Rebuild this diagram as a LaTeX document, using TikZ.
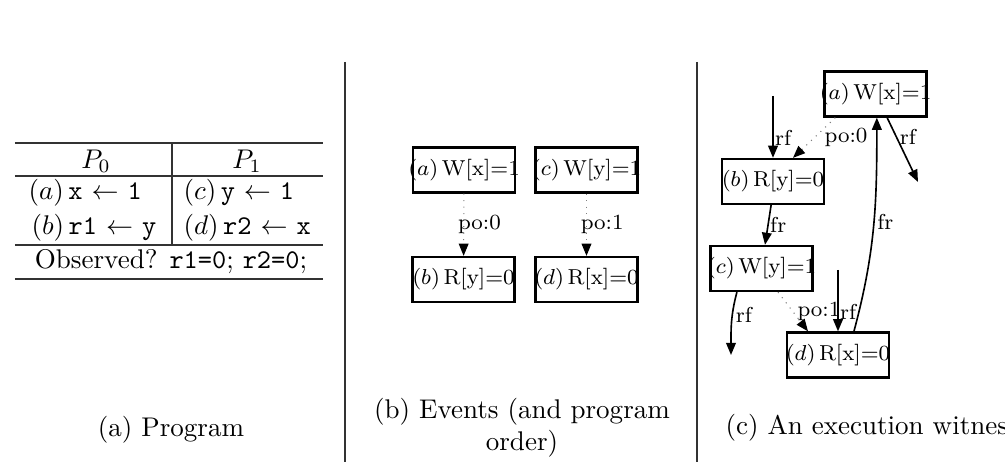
\documentclass[tikz,border=0pt]{standalone}
\usetikzlibrary{arrows.meta}
% event label, allowed to run over the box edges like in the witness drawings
\newcommand{\evlab}[2]{\makebox[37.7pt]{$(#1)$\,#2}}
\begin{document}
\begin{tikzpicture}[x=0.37pt,y=-0.37pt,
  evt/.style={draw,thick,font=\footnotesize,inner xsep=0pt,minimum width=37.7pt,minimum height=16.7pt},
  po/.style={dotted,gray,-{Triangle[length=4.5pt,width=3.6pt,black]}},
  rel/.style={semithick,-{Triangle[length=4.5pt,width=3.6pt]}},
  lbl/.style={font=\footnotesize,inner sep=1pt,text=black},
  rule/.style={thin,black!80}]
  \useasboundingbox (0,0) rectangle (1005,474);
  % (a) the program as a table
  \draw[rule] (15,143)--(323,143) (15,176)--(323,176) (15,245)--(323,245) (15,279)--(323,279);
  \draw[rule] (172,143)--(172,245);
  \node (hp0) at (96,161) {$P_0$};
  \node (hp1) at (247,161) {$P_1$};
  \node[anchor=west] (ia) at (19,193) {$(a)$\,\texttt{x} $\leftarrow$ \texttt{1}};
  \node[anchor=west] (ib) at (22,228) {$(b)$\,\texttt{r1} $\leftarrow$ \texttt{y}};
  \node[anchor=west] (ic) at (174,193) {$(c)$\,\texttt{y} $\leftarrow$ \texttt{1}};
  \node[anchor=west] (id) at (174,228) {$(d)$\,\texttt{r2} $\leftarrow$ \texttt{x}};
  \node (obs) at (171,262) {Observed? \texttt{r1=0}; \texttt{r2=0};};
  \node (capa) at (171,430) {(a) Program};
  \draw[rule] (345,62)--(345,462);
  % (b) events and program order
  \node[evt] (ea) at (464,170) {\evlab{a}{W[x]=1}};
  \node[evt] (ec) at (586.5,170) {\evlab{c}{W[y]=1}};
  \node[evt] (eb) at (463.5,279.5) {\evlab{b}{R[y]=0}};
  \node[evt] (ed) at (586.5,279.5) {\evlab{d}{R[x]=0}};
  \draw[po] (ea) -- node[lbl,midway,xshift=5.8pt] {po:0} (eb);
  \draw[po] (ec) -- node[lbl,midway,xshift=5.8pt] {po:1} (ed);
  \node[align=center] (capb) at (522,428) {(b) Events (and program\\order)};
  \draw[rule] (697,62)--(697,462);
  % (c) an execution witness
  \node[evt] (wa) at (875.5,94) {\evlab{a}{W[x]=1}};
  \node[evt] (wb) at (773,181.5) {\evlab{b}{R[y]=0}};
  \node[evt] (wc) at (761.5,268.5) {\evlab{c}{W[y]=1}};
  \node[evt] (wd) at (838,355) {\evlab{d}{R[x]=0}};
  \coordinate (rfb) at (773,96);
  \coordinate (rfa) at (918,182);
  \coordinate (rfc) at (731,355);
  \coordinate (rfd) at (838,270);
  \draw[rel] (rfb) -- node[lbl,pos=0.68,right,inner sep=0.5pt] {rf} (wb.north);
  \draw[po] ([xshift=4.4pt]wa.south west) -- node[lbl,midway,right,xshift=2.7pt] {po:0} ([xshift=7.4pt]wb.north);
  \draw[rel] ([xshift=4.3pt]wa.south) -- node[lbl,pos=0.3,right] {rf} (rfa);
  \draw[rel] ([xshift=-0.7pt]wb.south) -- node[lbl,midway,right,inner sep=0.5pt] {fr} ([xshift=1.3pt]wc.north);
  \draw[rel] ([xshift=5.9pt]wd.north) to[out=75,in=-90] node[lbl,pos=0.52,right] {fr} ([xshift=0.5pt]wa.south);
  \draw[rel] ([xshift=-9.1pt]wc.south) to[out=-105,in=90] node[lbl,pos=0.35,right] {rf} (rfc);
  \draw[po] ([xshift=6.1pt]wc.south) -- node[lbl,midway,right,xshift=0.5pt] {po:1} ([xshift=-11.1pt]wd.north);
  \draw[rel] (rfd) -- node[lbl,pos=0.68,right,inner sep=0.5pt] {rf} (wd.north);
  \node[anchor=west] (capc) at (716,428) {(c) An execution witness};
\end{tikzpicture}
\end{document}
